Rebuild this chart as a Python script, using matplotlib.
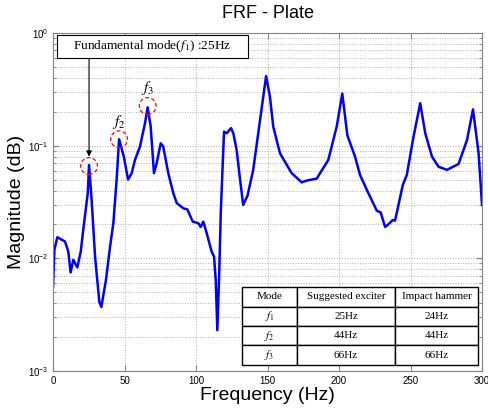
import matplotlib
matplotlib.use('Agg')
import matplotlib.pyplot as plt
from matplotlib.patches import Rectangle
import numpy as np

# frequency response
freq = [0, 1, 3, 8.4, 10.7, 12.3, 14.2, 17, 19.4, 21.7, 24.3, 25.2, 27, 29.4, 32.4,
        33.8, 35.2, 37, 39.9, 42.2, 44.5, 46.2, 49.5, 52.5, 55, 57.3, 60.8, 64.3, 66.2,
        68.3, 70.6, 72.5, 75.3, 77.1, 80.6, 84.1, 86.5, 91.1, 93.9, 97.7, 101.6, 103.3,
        105.1, 107.5, 110.9, 112.6, 113.8, 114.9, 116.1, 117.3, 118.7, 119.6, 121.5,
        124.5, 126.1, 128.5, 130.8, 133, 136, 140, 144.8, 149, 151.7, 154, 158.7, 166.9,
        173.9, 177.4, 184.4, 192.5, 198.4, 202.3, 205.8, 211.2, 214.7, 220.5, 226.4,
        229.2, 232.2, 234.5, 237.6, 239.2, 244.6, 247.4, 252.1, 256.8, 260.3, 265,
        269.6, 275.5, 283.6, 289.5, 293.7, 297.6, 300]
mag = [0.0056, 0.012, 0.0154, 0.0141, 0.0115, 0.0075, 0.0097, 0.0083, 0.0115, 0.0205,
       0.038, 0.0674, 0.033, 0.0104, 0.0041, 0.0037, 0.0047, 0.0064, 0.0127, 0.0205,
       0.050, 0.114, 0.080, 0.050, 0.057, 0.0746, 0.098, 0.158, 0.219, 0.148, 0.057,
       0.070, 0.105, 0.098, 0.057, 0.038, 0.031, 0.0278, 0.0272, 0.0212, 0.0205, 0.019,
       0.0212, 0.0167, 0.0115, 0.0104, 0.0064, 0.0023, 0.0064, 0.025, 0.07, 0.133,
       0.129, 0.143, 0.129, 0.09, 0.05, 0.0298, 0.036, 0.061, 0.169, 0.415, 0.272,
       0.148, 0.0857, 0.057, 0.0473, 0.049, 0.051, 0.0746, 0.148, 0.29, 0.124, 0.080,
       0.055, 0.038, 0.0265, 0.0255, 0.019, 0.020, 0.0219, 0.0216, 0.0448, 0.055,
       0.120, 0.238, 0.129, 0.080, 0.065, 0.061, 0.0688, 0.112, 0.21, 0.0857, 0.0298]

modes = ['$f_1$', '$f_2$', '$f_3$']
mode_freq = [25.2, 46.2, 66.2]
mode_mag = [0.066, 0.114, 0.225]
col_labels = ['Mode', 'Suggested exciter', 'Impact hammer']
exciter = ['25Hz', '44Hz', '66Hz']
hammer = ['24Hz', '44Hz', '66Hz']

plt.rcParams['mathtext.fontset'] = 'stix'

fig = plt.figure(figsize=(4.89, 4.09), dpi=100)
ax = fig.add_axes([0.1084, 0.0929, 0.8773, 0.8264])

ax.semilogy(freq, mag, color='#0000ff', linewidth=1.8)
ax.set_xlim(0, 300)
ax.set_ylim(1e-3, 1)
ax.set_xticks(np.arange(0, 301, 50))

ax.grid(True, which='major', linestyle=':', color='#b0b0b0', linewidth=0.7)
ax.grid(True, which='minor', axis='y', linestyle=':', color='#b0b0b0', linewidth=0.7)
ax.tick_params(which='both', direction='in', top=True, right=True, labelsize=7,
               color='#808080')
ax.tick_params(which='major', length=4)
ax.tick_params(which='minor', length=2)
for s in ax.spines.values():
    s.set_color('#808080')
for lab in ax.get_xticklabels() + ax.get_yticklabels():
    lab.set_family('Liberation Sans')

ax.set_title('FRF - Plate', fontsize=13, family='Liberation Sans', pad=11)
ax.set_xlabel('Frequency (Hz)', fontsize=14, family='Liberation Sans', labelpad=1)
ax.set_ylabel('Magnitude (dB)', fontsize=14, family='Liberation Sans', labelpad=2)

# red dashed circles on the first three modes
ax.scatter(mode_freq, mode_mag, s=145, facecolors='none',
           edgecolors='red', linewidths=0.9, linestyles=(0, (3, 2)), zorder=3)

ax.text(mode_freq[1], 0.163, modes[1], ha='center', va='center', fontsize=11)
ax.text(mode_freq[2], 0.323, modes[2], ha='center', va='center', fontsize=11)

# annotation box + vertical arrow down to f1
ax.add_patch(Rectangle((2.8, 0.60), 133.3, 0.36, fc='white', ec='black', lw=0.8,
                       zorder=4))
ax.text(69.5, 0.765, 'Fundamental mode($f_1$) :25Hz', ha='center', va='center',
        fontsize=9.6, family='Liberation Serif', zorder=5)
ax.annotate('', xy=(mode_freq[0], 0.08), xytext=(mode_freq[0], 0.60),
            arrowprops=dict(arrowstyle='-|>', color='black', lw=0.8,
                            mutation_scale=8, shrinkA=0, shrinkB=0))

cells = [[m, e, h] for m, e, h in zip(modes, exciter, hammer)]
tab = ax.table(cellText=cells, colLabels=col_labels, cellLoc='center',
               colWidths=[55 / 236, 98 / 236, 83 / 236],
               bbox=[0.4406, 0.0178, 0.5501, 0.2307])
tab.auto_set_font_size(False)
for (r, c), cell in tab.get_celld().items():
    cell.set_edgecolor('black')
    cell.set_linewidth(1.0)
    cell.set_facecolor('white')
    cell.get_text().set_fontsize(8)
    cell.get_text().set_family('Liberation Serif')
tab.set_zorder(5)

plt.savefig('out.png', dpi=100)
